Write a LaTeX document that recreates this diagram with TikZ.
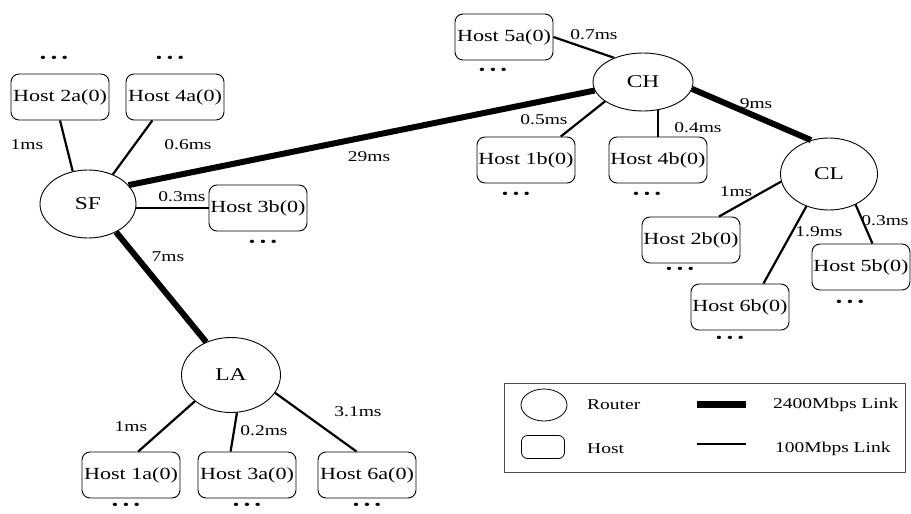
\documentclass[tikz,border=0pt]{standalone}
\usepackage{fontspec}
\setmainfont{Liberation Serif}[FakeStretch=1.3]
\usetikzlibrary{shapes.geometric}
\tikzset{
  router/.style={draw=black, line width=0.9pt, ellipse, inner sep=0pt, font=\fontsize{18}{20}\selectfont},
  host/.style={draw=black, line width=0.9pt, rectangle, rounded corners=8pt, minimum width=98pt, minimum height=46pt, inner sep=0pt, font=\fontsize{17}{19}\selectfont},
  lbl/.style={font=\fontsize{15}{17}\selectfont, inner sep=0pt},
  dots/.style={font=\fontsize{14}{16}\selectfont, inner sep=0pt},
  bigln/.style={line width=6pt},
  smallln/.style={line width=2.2pt},
}
\begin{document}
\begin{tikzpicture}[x=1pt,y=-1pt]
\useasboundingbox (0,0) rectangle (911,514);
% routers
\node[router, minimum width=96pt, minimum height=68pt] (SF) at (88,204) {SF};
\node[router, minimum width=100pt, minimum height=58pt] (CH) at (643,82) {CH};
\node[router, minimum width=97pt, minimum height=72pt] (CL) at (829,174) {CL};
\node[router, minimum width=99pt, minimum height=75pt] (LA) at (231,375) {LA};
% hosts
\node[host] (h2a) at (60,97) {Host 2a(0)};
\node[host] (h4a) at (175,97) {Host 4a(0)};
\node[host] (h3b) at (258,208) {Host 3b(0)};
\node[host] (h5a) at (504,37) {Host 5a(0)};
\node[host] (h1b) at (526,160) {Host 1b(0)};
\node[host] (h4b) at (658,160) {Host 4b(0)};
\node[host] (h2b) at (691,240) {Host 2b(0)};
\node[host] (h6b) at (740,307) {Host 6b(0)};
\node[host] (h5b) at (861,267) {Host 5b(0)};
\node[host] (h1a) at (131,475) {Host 1a(0)};
\node[host] (h3a) at (247,475) {Host 3a(0)};
\node[host] (h6a) at (367,475) {Host 6a(0)};
% dots
\node[dots] (d2a) at (54,59) {• • •};
\node[dots] (d4a) at (170,59) {• • •};
\node[dots] (d3b) at (263,243) {• • •};
\node[dots] (d5a) at (493,71) {• • •};
\node[dots] (d1b) at (516,195) {• • •};
\node[dots] (d4b) at (647,195) {• • •};
\node[dots] (d2b) at (680,270) {• • •};
\node[dots] (d6b) at (730,339) {• • •};
\node[dots] (d5b) at (850,303) {• • •};
\node[dots] (d1a) at (126,506) {• • •};
\node[dots] (d3a) at (247,506) {• • •};
\node[dots] (d6a) at (367,506) {• • •};
% backbone links
\draw[bigln] (SF.25) -- (CH.190);
\draw[bigln] (CH.-8) -- (CL.118);
\draw[bigln] (SF.-45) -- (LA.127);
% access links
\draw[smallln] (SF.115) -- (h2a.south);
\draw[smallln] (SF.50) -- (h4a.226);
\draw[smallln] (h3b.west) -- (h3b.west -| SF.east);
\draw[smallln] (h5a.east) -- (CH.140);
\draw[smallln] (CH.207) -- (h1b.34);
\draw[smallln] (h4b.north) -- (h4b.north |- CH.-62);
\draw[smallln] (CL.189) -- (h2b.40);
\draw[smallln] (CL.235) -- (h6b.45);
\draw[smallln] (CL.-49) -- (h5b.64);
\draw[smallln] (LA.216) -- (h1a.73);
\draw[smallln] (LA.-81) -- (h3a.125);
\draw[smallln] (LA.-22) -- (h6a.114);
% labels
\node[lbl] (l29) at (369,157) {29ms};
\node[lbl] (l9) at (756,104) {9ms};
\node[lbl] (l7) at (168,257) {7ms};
\node[lbl] (l2a) at (27,145) {1ms};
\node[lbl] (l4a) at (188,145) {0.6ms};
\node[lbl] (l3b) at (182,197) {0.3ms};
\node[lbl] (l5a) at (594,35) {0.7ms};
\node[lbl] (l1b) at (544,120) {0.5ms};
\node[lbl] (l4b) at (698,128) {0.4ms};
\node[lbl] (l2b) at (736,192) {1ms};
\node[lbl] (l6b) at (819,232) {1.9ms};
\node[lbl] (l5b) at (885,221) {0.3ms};
\node[lbl] (l1a) at (131,427) {1ms};
\node[lbl] (l3a) at (264,431) {0.2ms};
\node[lbl] (l6a) at (358,412) {3.1ms};
% legend
\node[draw=black!70, line width=0.9pt, minimum width=401pt, minimum height=89pt, inner sep=0pt] (legend) at (704.5,427.5) {};
\node[draw=black, line width=0.8pt, ellipse, minimum width=46pt, minimum height=32pt, inner sep=0pt] (lgr) at (544,405) {};
\node[lbl, anchor=west] (lgrt) at (587,405) {Router};
\node[draw=black, line width=0.8pt, rounded corners=6pt, minimum width=43pt, minimum height=23pt, inner sep=0pt] (lgh) at (543,447) {};
\node[lbl, anchor=west] (lght) at (587,449) {Host};
\coordinate (tk1) at (697,404);
\coordinate (tk2) at (746,404);
\draw[line width=7pt] (tk1) -- (tk2);
\node[lbl, anchor=west] (lgtk) at (773,405) {2400Mbps Link};
\coordinate (tn1) at (697,444);
\coordinate (tn2) at (746,444);
\draw[smallln] (tn1) -- (tn2);
\node[lbl, anchor=west] (lgtn) at (775,449) {100Mbps Link};
\end{tikzpicture}
\end{document}
